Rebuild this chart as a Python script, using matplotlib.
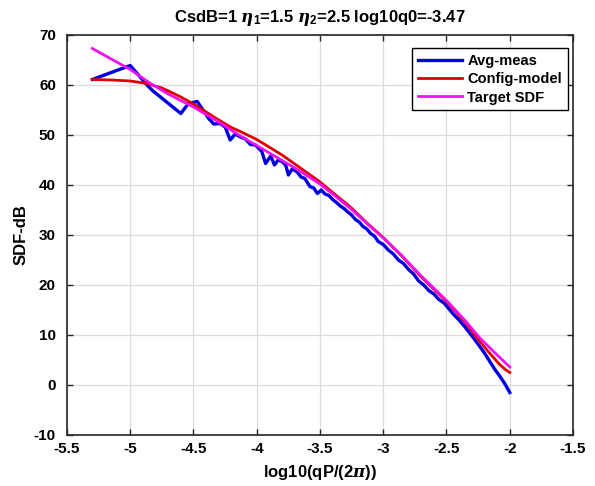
import matplotlib
matplotlib.use('Agg')
import matplotlib.pyplot as plt
import numpy as np

# Avg-meas (blue)
measX = [-5.30, -5.00, -4.86, -4.82, -4.60, -4.54, -4.47, -4.42, -4.38, -4.34,
         -4.29, -4.25, -4.21, -4.17, -4.13, -4.09, -4.05, -4.01, -3.96, -3.93,
         -3.89, -3.86, -3.83, -3.80, -3.77, -3.75, -3.72, -3.68, -3.65, -3.62,
         -3.58, -3.55, -3.52, -3.49, -3.46, -3.43, -3.40, -3.37, -3.34, -3.31,
         -3.28, -3.25, -3.22, -3.19, -3.16, -3.13, -3.10, -3.07, -3.04, -3.00,
         -2.96, -2.92, -2.88, -2.84, -2.80, -2.76, -2.72, -2.68, -2.64, -2.60,
         -2.56, -2.52, -2.48, -2.44, -2.40, -2.36, -2.32, -2.28, -2.24, -2.20,
         -2.16, -2.12, -2.08, -2.04, -2.02, -2.00]
measY = [61.1, 63.9, 59.8, 58.8, 54.3, 56.3, 56.7, 54.8, 53.3, 52.2,
         52.3, 51.6, 49.0, 50.2, 49.6, 49.2, 48.1, 48.0, 46.7, 44.3,
         45.8, 44.0, 45.0, 44.7, 43.9, 42.0, 43.2, 42.6, 41.6, 41.3,
         39.7, 39.4, 38.3, 39.0, 38.2, 37.9, 37.1, 36.5, 35.8, 35.3,
         34.6, 34.0, 33.1, 32.6, 31.7, 31.2, 30.3, 29.8, 28.7, 28.1,
         27.0, 26.2, 25.0, 24.3, 23.1, 22.2, 20.8, 20.0, 18.9, 18.2,
         17.1, 16.4, 15.2, 14.0, 13.0, 11.8, 10.5, 9.2, 7.8, 6.4,
         4.8, 3.2, 1.8, 0.3, -0.6, -1.5]

# Config-model (red)
modelX = [-5.30, -5.15, -5.00, -4.87, -4.75, -4.69, -4.60, -4.50, -4.40, -4.32,
          -4.20, -4.13, -4.00, -3.80, -3.66, -3.50, -3.40, -3.26, -3.12, -3.00,
          -2.85, -2.70, -2.50, -2.35, -2.24, -2.15, -2.08, -2.03, -2.00]
modelY = [61.1, 61.0, 60.8, 60.3, 59.4, 58.7, 57.6, 56.2, 54.6, 53.3,
          51.5, 50.7, 49.1, 46.0, 43.5, 40.6, 38.5, 35.6, 32.2, 29.5,
          25.7, 21.6, 16.7, 12.5, 8.8, 6.1, 4.1, 3.0, 2.5]

# Target SDF (magenta)
targetX = [-5.30, -5.15, -5.00, -4.84, -4.70, -4.50, -4.30, -4.13, -4.00, -3.80,
           -3.66, -3.50, -3.40, -3.26, -3.12, -3.00, -2.85, -2.70, -2.50, -2.35,
           -2.24, -2.12, -2.00]
targetY = [67.3, 65.2, 63.1, 60.3, 58.2, 55.6, 52.6, 49.8, 47.9, 44.9,
           42.8, 40.2, 38.2, 35.3, 32.1, 29.4, 25.8, 21.8, 16.9, 12.8,
           9.5, 6.5, 3.6]

xTicks = [-5.5, -5, -4.5, -4, -3.5, -3, -2.5, -2, -1.5]
yTicks = [-10, 0, 10, 20, 30, 40, 50, 60, 70]

plt.rcParams['font.family'] = ['Liberation Sans', 'DejaVu Sans']
plt.rcParams['font.weight'] = 'bold'
plt.rcParams['mathtext.fontset'] = 'custom'
plt.rcParams['mathtext.rm'] = 'Liberation Sans:bold'
plt.rcParams['mathtext.bf'] = 'Liberation Sans:bold'
plt.rcParams['mathtext.it'] = 'DejaVu Serif:italic'
plt.rcParams['axes.unicode_minus'] = False

fig = plt.figure(figsize=(5.95, 4.86), dpi=100)
ax = fig.add_axes([0.1126, 0.105, 0.8504, 0.823])

ax.plot(measX, measY, color='#0000e0', linewidth=2.4, label='Avg-meas')
ax.plot(modelX, modelY, color='#e00000', linewidth=2.0, label='Config-model')
ax.plot(targetX, targetY, color='#f010f0', linewidth=2.0, label='Target SDF')

ax.set_xlim(-5.5, -1.5)
ax.set_ylim(-10, 70)
ax.set_xticks(xTicks)
ax.set_xticklabels(['%g' % v for v in xTicks])
ax.set_yticks(yTicks)
ax.set_yticklabels(['%g' % v for v in yTicks])
ax.grid(True, color='#dcdcdc', linewidth=0.9)
ax.set_axisbelow(True)
ax.tick_params(direction='in', top=True, right=True, length=4, width=1,
               labelsize=11, color='#262626')
ax.tick_params(axis='x', pad=5)
ax.tick_params(axis='y', pad=8)
for lbl in ax.get_xticklabels() + ax.get_yticklabels():
    lbl.set_fontweight('bold')
for s in ax.spines.values():
    s.set_color('#262626')
    s.set_linewidth(1.2)

ax.set_xlabel(r'log10(qP/(2$\pi$))', fontsize=12, fontweight='bold', labelpad=5)
ax.set_ylabel('SDF-dB', fontsize=12, fontweight='bold', labelpad=4)
ax.set_title(r'CsdB=1 $\eta_1$=1.5 $\eta_2$=2.5 log10q0=-3.47', fontsize=12,
             fontweight='bold', pad=9)

leg = ax.legend(loc='upper left', bbox_to_anchor=(0.682, 0.9675), fontsize=10.5,
                handlelength=3.0, fancybox=False, framealpha=1, edgecolor='black',
                borderaxespad=0, labelspacing=0.3, borderpad=0.4, handletextpad=0.4)
leg.get_frame().set_linewidth(1.0)
for txt in leg.get_texts():
    txt.set_fontweight('bold')

fig.savefig('out.png', dpi=100)
